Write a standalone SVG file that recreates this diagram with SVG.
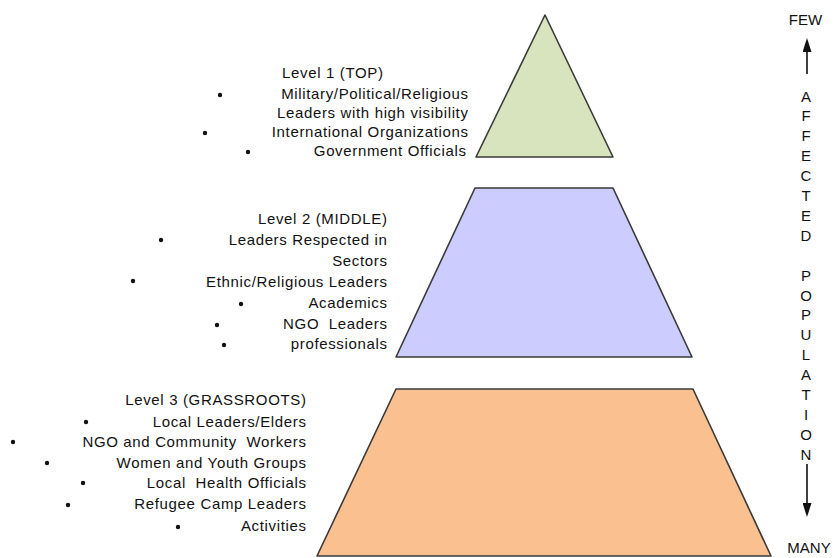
<svg xmlns="http://www.w3.org/2000/svg" width="835" height="558" viewBox="0 0 835 558">
<style>
text{font-family:"Liberation Sans",Arial,sans-serif;font-size:15px;fill:#111;letter-spacing:0.65px;white-space:pre}
.r{text-anchor:end}
.c{text-anchor:middle;letter-spacing:0}
.b{fill:#111}
.shape{stroke:#3a3a3a;stroke-width:1.6;stroke-linejoin:round}
.conn{stroke:#111;stroke-width:1.6;fill:none}
</style>
<defs>
<marker id="ah" markerUnits="userSpaceOnUse" markerWidth="14" markerHeight="9" refX="0" refY="4.5" orient="auto" viewBox="0 0 14 9">
<path d="M0,0 L14,4.5 L0,9 z" fill="#111"/>
</marker>
</defs>
<rect width="835" height="558" fill="#fff"/>
<g id="level1">
<polygon class="shape" points="545,15 476,157 613,157" fill="#d7e4bd"/>
<text x="282" y="78">Level 1 (TOP)</text>
<circle class="b" cx="220" cy="95" r="2.2"/>
<text class="r" x="468.6" y="99">Military/Political/Religious</text>
<text class="r" x="468.6" y="118">Leaders with high visibility</text>
<circle class="b" cx="205" cy="133" r="2.2"/>
<text class="r" x="468.6" y="137">International Organizations</text>
<circle class="b" cx="248" cy="152" r="2.2"/>
<text class="r" x="466.6" y="156">Government Officials</text>
</g>
<g id="level2">
<polygon class="shape" points="475,188 613,188 692,357 396,357" fill="#ccccff"/>
<text class="r" x="387.6" y="224">Level 2 (MIDDLE)</text>
<circle class="b" cx="161" cy="240" r="2.2"/>
<text class="r" x="387.6" y="245">Leaders Respected in</text>
<text class="r" x="387.6" y="266">Sectors</text>
<circle class="b" cx="133" cy="281" r="2.2"/>
<text class="r" x="387.6" y="287">Ethnic/Religious Leaders</text>
<circle class="b" cx="241" cy="304" r="2.2"/>
<text class="r" x="387.6" y="308">Academics</text>
<circle class="b" cx="217" cy="325" r="2.2"/>
<text class="r" x="387.6" y="329">NGO  Leaders</text>
<circle class="b" cx="224" cy="345" r="2.2"/>
<text class="r" x="387.6" y="349">professionals</text>
</g>
<g id="level3">
<polygon class="shape" points="396,389 693,389 771,556 317,556" fill="#fac090"/>
<text class="r" x="306.6" y="405">Level 3 (GRASSROOTS)</text>
<circle class="b" cx="86" cy="422" r="2.2"/>
<text class="r" x="306.6" y="427">Local Leaders/Elders</text>
<circle class="b" cx="13" cy="442" r="2.2"/>
<text class="r" x="306.6" y="447">NGO and Community  Workers</text>
<circle class="b" cx="47" cy="463" r="2.2"/>
<text class="r" x="306.6" y="468">Women and Youth Groups</text>
<circle class="b" cx="83" cy="483" r="2.2"/>
<text class="r" x="306.6" y="488">Local  Health Officials</text>
<circle class="b" cx="68" cy="505" r="2.2"/>
<text class="r" x="306.6" y="509">Refugee Camp Leaders</text>
<circle class="b" cx="178" cy="527" r="2.2"/>
<text class="r" x="306.6" y="531">Activities</text>
</g>
<g id="axis">
<text class="c" x="805.5" y="25">FEW</text>
<text class="c" x="806" y="101.5">A</text>
<text class="c" x="806" y="121.4">F</text>
<text class="c" x="806" y="141.3">F</text>
<text class="c" x="806" y="161.2">E</text>
<text class="c" x="806" y="181.1">C</text>
<text class="c" x="806" y="201">T</text>
<text class="c" x="806" y="220.9">E</text>
<text class="c" x="806" y="240.8">D</text>
<text class="c" x="806" y="280.6">P</text>
<text class="c" x="806" y="300.5">O</text>
<text class="c" x="806" y="320.4">P</text>
<text class="c" x="806" y="340.3">U</text>
<text class="c" x="806" y="360.2">L</text>
<text class="c" x="806" y="380.1">A</text>
<text class="c" x="806" y="400">T</text>
<text class="c" x="806" y="419.9">I</text>
<text class="c" x="806" y="439.8">O</text>
<text class="c" x="806" y="459.7">N</text>
<text class="c" x="809" y="553">MANY</text>
</g>
<g id="connectors">
<line class="conn" x1="807" y1="74" x2="807" y2="52" marker-end="url(#ah)"/>
<line class="conn" x1="807" y1="464" x2="807" y2="503" marker-end="url(#ah)"/>
</g>
</svg>
